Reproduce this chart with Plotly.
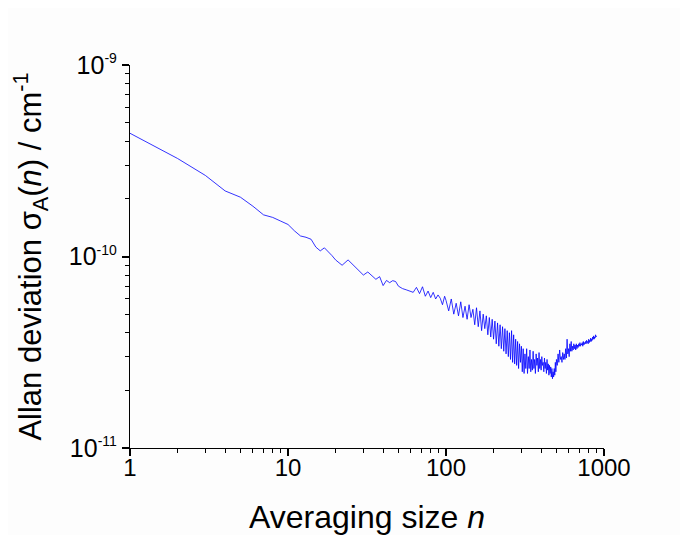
"""Allan deviation vs averaging size, log-log."""

import plotly.graph_objects as go

# Averaging size n
n_low = [1, 2, 3, 4, 5, 6, 7, 8, 9, 10, 11, 12, 13, 14, 15, 16, 17, 18, 19, 20,
         22, 24, 26, 28, 30, 32, 34, 36, 38, 40, 42, 44, 46, 48, 50, 53, 56, 59,
         62, 65, 68, 71, 74, 77, 80, 83, 86, 89, 92, 95, 98]
sig_low = [44.0, 32.5, 26.5, 22.0, 20.4, 18.3, 16.5, 16.0, 15.3, 14.7, 13.6, 12.8,
           12.6, 12.3, 11.2, 10.7, 11.1, 10.6, 10.1, 9.6, 9.0, 9.6, 9.0, 8.4, 8.0,
           8.3, 7.9, 7.6, 7.85, 7.05, 7.5, 7.3, 7.48, 7.4, 7.0, 6.8, 6.7, 6.6, 6.5,
           6.9, 6.4, 6.95, 6.2, 6.6, 6.1, 6.5, 6.0, 6.3, 6.05, 5.6, 6.2]

n_mid = list(range(100, 501, 4))
sig_mid = [5.9, 5.2, 6.0, 5.0, 5.7, 4.9, 5.8, 4.8, 5.5, 4.7, 5.6, 4.8, 5.3, 4.4,
           5.4, 4.3, 5.2, 4.1, 5.0, 4.2, 4.9, 3.9, 4.8, 3.8, 4.7, 3.7, 4.6, 3.5,
           4.5, 3.4, 4.4, 3.3, 4.3, 3.2, 4.2, 3.1, 4.1, 3.0, 4.0, 2.9, 4.1, 2.8,
           3.9, 2.75, 3.7, 2.7, 3.6, 2.6, 3.5, 2.8, 3.4, 2.5, 3.3, 2.45, 3.1, 2.6,
           3.3, 2.45, 3.0, 2.6, 3.25, 2.5, 2.9, 2.55, 3.2, 2.6, 2.9, 2.45, 3.1, 2.7,
           2.95, 2.5, 3.15, 2.6, 2.9, 2.55, 3.0, 2.7, 2.8, 2.5, 2.95, 2.6, 2.8, 2.45,
           2.9, 2.55, 2.75, 2.4, 2.7, 2.45, 2.65, 2.35, 2.6, 2.3, 2.5, 2.35, 2.6,
           2.4, 2.8, 2.5, 2.9]

n_high = list(range(506, 897, 6))
sig_high = [2.7, 3.1, 2.8, 3.25, 2.9, 3.0, 2.8, 3.15, 2.9, 3.1, 2.9, 3.3, 2.95,
            3.7, 3.1, 3.3, 3.0, 3.5, 3.2, 3.6, 3.2, 3.4, 3.25, 3.5, 3.3, 3.45,
            3.25, 3.5, 3.3, 3.45, 3.35, 3.5, 3.4, 3.55, 3.4, 3.5, 3.45, 3.55, 3.4,
            3.6, 3.45, 3.55, 3.5, 3.6, 3.5, 3.65, 3.55, 3.6, 3.5, 3.7, 3.55, 3.65,
            3.6, 3.75, 3.6, 3.7, 3.65, 3.8, 3.7, 3.85, 3.7, 3.8, 3.75, 3.9, 3.8,
            3.85]

# values above are in units of 1e-11 cm^-1
n_vals = n_low + n_mid + n_high
sigma = [v * 1e-11 for v in sig_low + sig_mid + sig_high]

x_ticks = [1, 10, 100, 1000]
x_labels = ["1", "10", "100", "1000"]
y_ticks = [1e-11, 1e-10, 1e-9]
y_exps = ["-11", "-10", "-9"]
y_labels = [f"10<sup><span style='font-size:14px'>{e}</span></sup>" for e in y_exps]

x_minor = [m * d for d in (1, 10, 100) for m in range(2, 10)]
y_minor = [m * d for d in (1e-11, 1e-10) for m in range(2, 10)]

text_color = "#000000"
bg = "#fdfdfd"

fig = go.Figure()
fig.add_trace(go.Scatter(
    x=n_vals, y=sigma,
    mode="lines",
    line=dict(color="#0000ff", width=0.8),
    hoverinfo="skip",
    showlegend=False,
))

# Invisible trace so the minor-tick overlay axes get drawn
fig.add_trace(go.Scatter(
    x=[10], y=[1e-10],
    xaxis="x2", yaxis="y2",
    mode="markers",
    marker=dict(opacity=0),
    hoverinfo="skip",
    showlegend=False,
))

axis_common = dict(
    type="log",
    showgrid=False,
    zeroline=False,
    ticks="outside",
    tickcolor="#000000",
    automargin=False,
    tickmode="array",
)

# trailing no-break spaces nudge the rotated title down a little
y_title = "Allan deviation σ<sub>A</sub>(<i>n</i>) / cm<sup>-1</sup>" + "\u00a0" * 3

fig.update_layout(
    width=688,
    height=535,
    font=dict(family="Liberation Sans, Arial, sans-serif", color=text_color),
    paper_bgcolor=bg,
    plot_bgcolor=bg,
    # page body adds ~8px offset, so margins are shifted to compensate
    margin=dict(l=122, r=92, t=57, b=95),
    xaxis=dict(
        **axis_common,
        range=[0, 3],
        tickvals=x_ticks,
        ticktext=x_labels,
        showline=True,
        linecolor="#000000",
        linewidth=1.3,
        ticklen=7,
        tickwidth=1.5,
        tickfont=dict(size=24, color=text_color),
        ticklabelstandoff=-9,
        title=dict(text="Averaging size <i>n</i>", font=dict(size=32), standoff=25),
    ),
    yaxis=dict(
        **axis_common,
        range=[-11, -9],
        tickvals=y_ticks,
        ticktext=y_labels,
        showline=True,
        linecolor="#000000",
        linewidth=1.3,
        ticklen=7,
        tickwidth=1.5,
        tickfont=dict(size=25, color=text_color),
        title=dict(text=y_title, font=dict(size=31), standoff=20),
    ),
    xaxis2=dict(
        **axis_common,
        range=[0, 3],
        overlaying="x",
        anchor="y",
        side="bottom",
        tickvals=x_minor,
        ticklen=4,
        tickwidth=1.2,
        showticklabels=False,
        showline=False,
    ),
    yaxis2=dict(
        **axis_common,
        range=[-11, -9],
        overlaying="y",
        anchor="x",
        side="left",
        tickvals=y_minor,
        ticklen=4,
        tickwidth=1.2,
        showticklabels=False,
        showline=False,
    ),
)

fig.write_html("out.html")
